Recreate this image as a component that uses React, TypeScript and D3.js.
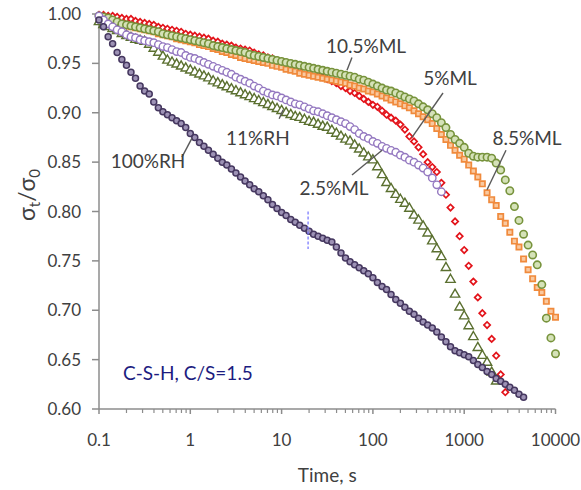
import React from 'react';
import * as d3 from 'd3';

// Shared log-spaced sampling times (s)
const TIMES = [
  0.1, 0.112, 0.126, 0.141, 0.158, 0.178, 0.2, 0.224, 0.251, 0.282, 0.316, 0.355, 0.398, 0.447, 0.501, 0.562, 0.631, 0.708, 0.794, 0.891,
  1, 1.12, 1.26, 1.41, 1.58, 1.78, 2, 2.24, 2.51, 2.82, 3.16, 3.55, 3.98, 4.47, 5.01, 5.62, 6.31, 7.08, 7.94, 8.91,
  10, 11.2, 12.6, 14.1, 15.8, 17.8, 20, 22.4, 25.1, 28.2, 31.6, 35.5, 39.8, 44.7, 50.1, 56.2, 63.1, 70.8, 79.4, 89.1,
  100, 112, 126, 141, 158, 178, 200, 224, 251, 282, 316, 355, 398, 447, 501, 562, 631, 708, 794, 891,
  1000, 1120, 1260, 1410, 1580, 1780, 2000, 2240, 2510, 2820, 3160, 3550, 3980, 4470, 5010, 5620, 6310, 7080, 7940, 8910, 10000,
];

const RH100 = [
  0.994, 0.987, 0.977, 0.970, 0.961, 0.954, 0.948, 0.941, 0.935, 0.927,
  0.922, 0.919, 0.911, 0.905, 0.901, 0.898, 0.895, 0.892, 0.889, 0.885,
  0.879, 0.875, 0.870, 0.866, 0.862, 0.858, 0.854, 0.850, 0.847, 0.843,
  0.839, 0.835, 0.831, 0.827, 0.823, 0.820, 0.816, 0.812, 0.807, 0.803,
  0.799, 0.796, 0.792, 0.789, 0.786, 0.783, 0.780, 0.777, 0.775, 0.773,
  0.771, 0.769, 0.764, 0.758, 0.753, 0.749, 0.746, 0.743, 0.740, 0.737,
  0.733, 0.728, 0.724, 0.721, 0.716, 0.711, 0.707, 0.703, 0.699, 0.696,
  0.692, 0.688, 0.685, 0.682, 0.678, 0.673, 0.668, 0.663, 0.659, 0.657,
  0.655, 0.653, 0.649, 0.645, 0.642, 0.638, 0.635, 0.631, 0.628, 0.625,
  0.622, 0.619, 0.615, 0.612,
];

const RH11 = [
  0.998, 0.994, 0.990, 0.987, 0.984, 0.982, 0.979, 0.977, 0.976, 0.974,
  0.973, 0.972, 0.971, 0.969, 0.967, 0.966, 0.964, 0.962, 0.961, 0.958,
  0.956, 0.955, 0.953, 0.951, 0.949, 0.947, 0.945, 0.943, 0.941, 0.939,
  0.936, 0.934, 0.932, 0.930, 0.927, 0.925, 0.922, 0.920, 0.918, 0.917,
  0.915, 0.913, 0.911, 0.909, 0.908, 0.906, 0.904, 0.902, 0.901, 0.899,
  0.897, 0.895, 0.893, 0.891, 0.889, 0.886, 0.883, 0.879, 0.876, 0.874,
  0.871, 0.869, 0.866, 0.864, 0.862, 0.860, 0.857, 0.855, 0.852, 0.850,
  0.847, 0.844, 0.840, 0.834, 0.827, 0.820,
];

const ML25 = [
  0.992, 0.989, 0.987, 0.985, 0.983, 0.980, 0.978, 0.976, 0.974, 0.973,
  0.972, 0.969, 0.965, 0.961, 0.957, 0.953, 0.951, 0.949, 0.947, 0.945,
  0.943, 0.941, 0.939, 0.937, 0.935, 0.932, 0.930, 0.928, 0.926, 0.924,
  0.922, 0.920, 0.918, 0.916, 0.914, 0.912, 0.910, 0.908, 0.906, 0.904,
  0.902, 0.900, 0.898, 0.896, 0.895, 0.893, 0.891, 0.890, 0.888, 0.886,
  0.885, 0.882, 0.879, 0.876, 0.873, 0.871, 0.867, 0.863, 0.859, 0.855,
  0.852, 0.845, 0.837, 0.829, 0.823, 0.817, 0.812, 0.808, 0.803, 0.796,
  0.791, 0.785, 0.778, 0.770, 0.762, 0.754, 0.743, 0.731, 0.716, 0.703,
  0.694, 0.684, 0.673, 0.662, 0.654, 0.647, 0.637, 0.628,
];

const ML5 = [
  0.999, 0.999, 0.998, 0.998, 0.997, 0.996, 0.995, 0.995, 0.993, 0.992,
  0.991, 0.990, 0.989, 0.987, 0.986, 0.985, 0.984, 0.983, 0.982, 0.980,
  0.979, 0.978, 0.977, 0.976, 0.975, 0.973, 0.972, 0.970, 0.969, 0.968,
  0.966, 0.965, 0.964, 0.963, 0.961, 0.959, 0.958, 0.956, 0.955, 0.953,
  0.952, 0.950, 0.949, 0.947, 0.945, 0.943, 0.941, 0.940, 0.938, 0.936,
  0.934, 0.932, 0.930, 0.927, 0.925, 0.922, 0.920, 0.917, 0.914, 0.911,
  0.908, 0.906, 0.902, 0.898, 0.895, 0.892, 0.888, 0.883, 0.876, 0.871,
  0.865, 0.858, 0.850, 0.845, 0.840, 0.829, 0.817, 0.804, 0.790, 0.775,
  0.761, 0.745, 0.729, 0.713, 0.697, 0.685, 0.671, 0.654, 0.635, 0.617,
];

const ML85 = [
  0.997, 0.996, 0.995, 0.993, 0.991, 0.989, 0.988, 0.987, 0.986, 0.985,
  0.984, 0.983, 0.982, 0.980, 0.979, 0.978, 0.977, 0.975, 0.974, 0.973,
  0.972, 0.971, 0.969, 0.968, 0.967, 0.965, 0.964, 0.962, 0.961, 0.959,
  0.958, 0.956, 0.955, 0.954, 0.953, 0.952, 0.951, 0.950, 0.948, 0.947,
  0.946, 0.944, 0.943, 0.942, 0.940, 0.939, 0.938, 0.937, 0.936, 0.935,
  0.934, 0.933, 0.932, 0.931, 0.930, 0.928, 0.927, 0.925, 0.924, 0.922,
  0.921, 0.919, 0.917, 0.915, 0.913, 0.911, 0.909, 0.907, 0.905, 0.902,
  0.899, 0.896, 0.893, 0.889, 0.884, 0.878, 0.873, 0.867, 0.862, 0.857,
  0.853, 0.847, 0.841, 0.835, 0.828, 0.819, 0.812, 0.806, 0.795, 0.788,
  0.779, 0.770, 0.764, 0.752, 0.741, 0.732, 0.723, 0.718, 0.709, 0.699,
  0.693,
];

const ML105 = [
  0.998, 0.997, 0.996, 0.994, 0.992, 0.990, 0.989, 0.988, 0.987, 0.986,
  0.985, 0.984, 0.983, 0.982, 0.980, 0.979, 0.978, 0.977, 0.976, 0.975,
  0.974, 0.973, 0.972, 0.971, 0.970, 0.968, 0.967, 0.966, 0.965, 0.964,
  0.963, 0.962, 0.961, 0.959, 0.958, 0.957, 0.956, 0.955, 0.954, 0.953,
  0.952, 0.951, 0.950, 0.949, 0.948, 0.947, 0.946, 0.945, 0.944, 0.943,
  0.942, 0.941, 0.940, 0.939, 0.938, 0.937, 0.936, 0.934, 0.933, 0.931,
  0.929, 0.927, 0.925, 0.923, 0.922, 0.920, 0.918, 0.916, 0.914, 0.912,
  0.909, 0.906, 0.903, 0.899, 0.895, 0.890, 0.885, 0.878, 0.873, 0.869,
  0.865, 0.859, 0.856, 0.855, 0.855, 0.855, 0.854, 0.849, 0.842, 0.832,
  0.821, 0.805, 0.791, 0.777, 0.766, 0.756, 0.746, 0.726, 0.692, 0.672,
  0.656,
];

const X_TICKS = [0.1, 1, 10, 100, 1000, 10000];
const X_TICK_LABELS = ['0.1', '1', '10', '100', '1000', '10000'];
const Y_TICKS = [0.6, 0.65, 0.7, 0.75, 0.8, 0.85, 0.9, 0.95, 1.0];

// Annotation labels in data units
const LABEL_TEXT = ['100%RH', '11%RH', '2.5%ML', '10.5%ML', '5%ML', '8.5%ML'];
const LABEL_POS: [number, number][] = [[0.344, 0.844], [5.5, 0.867], [37.5, 0.817], [84, 0.961], [700, 0.928], [4875, 0.867]];
const LEADER_FROM: [number, number][] = [[0.81, 0.855], [9.4, 0.894], [59, 0.837], [59, 0.956], [586, 0.920], [2870, 0.862]];
const LEADER_TO: [number, number][] = [[1.04, 0.874], [10.4, 0.903], [126, 0.862], [52, 0.943], [268, 0.875], [1778, 0.822]];

const W = 581;
const H = 490;

type Kind = 'circle' | 'triangle' | 'diamond' | 'square';

export default function App() {
  const x = d3.scaleLog().domain([0.1, 10000]).range([99, 555.5]);
  const y = d3.scaleLinear().domain([0.6, 1.0]).range([409, 14]);

  const minorTicks = x.ticks().filter((t) => !X_TICKS.some((m) => Math.abs(m - t) / m < 1e-6));

  const tri = d3.symbol().type(d3.symbolTriangle).size(38)()!;
  const sq = d3.symbol().type(d3.symbolSquare).size(28)()!;
  const dia = d3.symbol().type(d3.symbolSquare).size(20)()!;

  const series: { key: string; vals: number[]; kind: Kind; stroke: string; fill: string; r: number; sw: number }[] = [
    { key: '5ML', vals: ML5, kind: 'diamond', stroke: '#e3141b', fill: '#ffffff', r: 0, sw: 1.7 },
    { key: '85ML', vals: ML85, kind: 'square', stroke: '#f08a3c', fill: '#f9c9a0', r: 0, sw: 1.7 },
    { key: '105ML', vals: ML105, kind: 'circle', stroke: '#77933c', fill: '#d5e2b8', r: 3.7, sw: 1.6 },
    { key: '25ML', vals: ML25, kind: 'triangle', stroke: '#5b7030', fill: '#ffffff', r: 0, sw: 1.4 },
    { key: '11RH', vals: RH11, kind: 'circle', stroke: '#9478c0', fill: '#ffffff', r: 3.7, sw: 1.4 },
    { key: '100RH', vals: RH100, kind: 'circle', stroke: '#45375f', fill: '#9d92b5', r: 3.0, sw: 1.5 },
  ];

  const font = 'Lato, "Open Sans", sans-serif';
  const grey = '#8c8c8c';
  const textCol = '#404040';

  return (
    <svg width={W} height={H} style={{ position: 'absolute', left: 0, top: 0, background: '#fff' }} fontFamily={font}>
      <line x1={99} x2={99} y1={y(1.0)} y2={y(0.6)} stroke={grey} strokeWidth={1.5} />
      <line x1={99} x2={x(10000)} y1={y(0.6)} y2={y(0.6)} stroke={grey} strokeWidth={1.5} />
      {Y_TICKS.map((v) => (
        <g key={'yt' + v}>
          <line x1={92} x2={99} y1={y(v)} y2={y(v)} stroke={grey} strokeWidth={1.5} />
          <text x={81} y={y(v)} dy="0.36em" textAnchor="end" fontSize={17} fill={textCol}>
            {d3.format('.2f')(v)}
          </text>
        </g>
      ))}
      {X_TICKS.map((t, i) => (
        <g key={'xt' + t}>
          <line x1={x(t)} x2={x(t)} y1={y(0.6)} y2={y(0.6) + 5} stroke={grey} strokeWidth={1.5} />
          <text x={x(t)} y={446} textAnchor="middle" fontSize={17} fill={textCol}>
            {X_TICK_LABELS[i]}
          </text>
        </g>
      ))}
      {minorTicks.map((t) => (
        <line key={'mt' + t} x1={x(t)} x2={x(t)} y1={y(0.6)} y2={y(0.6) + 4} stroke={grey} strokeWidth={1.2} />
      ))}
      <text x={(99 + 555.5) / 2} y={482} textAnchor="middle" fontSize={19} fill={textCol}>
        Time, s
      </text>
      <text transform={`translate(35,195) rotate(-90)`} textAnchor="middle" fontSize={23} fill={textCol}>
        σ<tspan fontSize={15} dy={5}>t</tspan>
        <tspan dy={-5}>/σ</tspan>
        <tspan fontSize={15} dy={5}>0</tspan>
      </text>

      {series.map((s) => (
        <g key={s.key}>
          {s.vals.map((v, i) => {
            const cx = x(TIMES[i]);
            const cy = y(v);
            if (s.kind === 'circle')
              return <circle key={i} cx={cx} cy={cy} r={s.r} fill={s.fill} stroke={s.stroke} strokeWidth={s.sw} />;
            const d = s.kind === 'triangle' ? tri : s.kind === 'square' ? sq : dia;
            const rot = s.kind === 'diamond' ? ' rotate(45)' : '';
            return (
              <path key={i} d={d} transform={`translate(${cx},${cy})${rot}`} fill={s.fill} stroke={s.stroke} strokeWidth={s.sw} />
            );
          })}
        </g>
      ))}

      <line x1={x(19.5)} x2={x(19.5)} y1={y(0.8)} y2={y(0.762)} stroke="#7b7bff" strokeWidth={1.3} strokeDasharray="3,2" />

      {LABEL_TEXT.map((lbl, i) => (
        <g key={lbl}>
          <line
            x1={x(LEADER_FROM[i][0])}
            y1={y(LEADER_FROM[i][1])}
            x2={x(LEADER_TO[i][0])}
            y2={y(LEADER_TO[i][1])}
            stroke="#595959"
            strokeWidth={1.4}
          />
          <text x={x(LABEL_POS[i][0])} y={y(LABEL_POS[i][1])} textAnchor="middle" fontSize={19} fill={textCol}>
            {lbl}
          </text>
        </g>
      ))}
      <text x={x(0.183)} y={y(0.629)} fontSize={19} fill="#1c1c80">
        C-S-H, C/S=1.5
      </text>
    </svg>
  );
}
